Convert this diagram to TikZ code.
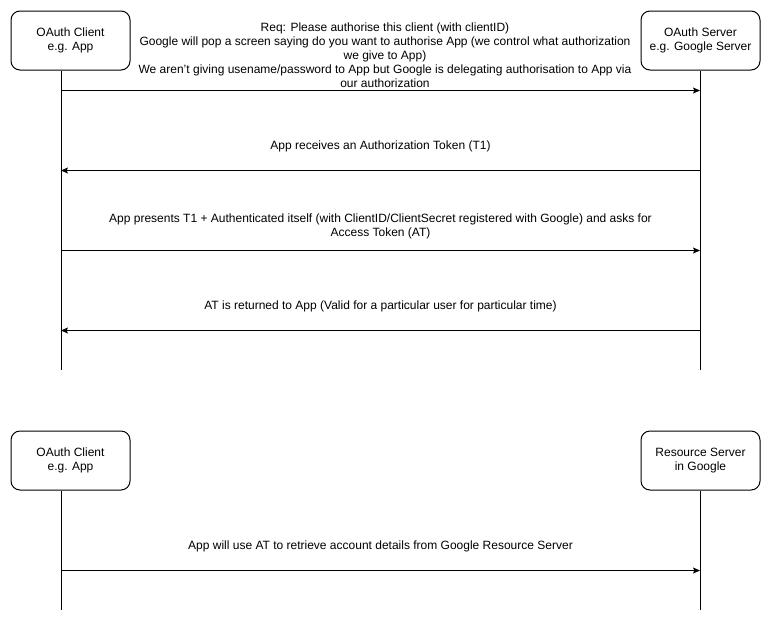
\documentclass[tikz,border=0pt]{standalone}
\usepackage{fontspec}
\setmainfont{Liberation Sans}
\usetikzlibrary{arrows.meta}
\begin{document}
\begin{tikzpicture}[x=1pt,y=-1pt,
  actor/.style={draw=black, line width=1pt, rounded corners=9pt, fill=white,
    minimum width=119pt, minimum height=59pt, align=center, inner sep=0pt,
    font=\fontsize{12}{14}\selectfont},
  life/.style={draw=black, line width=1pt},
  msg/.style={draw=black, line width=1pt, -{Stealth[length=7pt,width=6pt,inset=1.5pt]}},
  lbl/.style={align=center, inner sep=0pt, font=\fontsize{12}{14}\selectfont}]
\useasboundingbox (0,0) rectangle (771,622);
% top section
\node[actor] (c1) at (70.5,40.5) {OAuth Client\\e.g. App};
\node[actor] (s1) at (700.5,40.5) {OAuth Server\\e.g. Google Server};
\coordinate (c1e) at (61,370);
\coordinate (s1e) at (700,370);
\draw[life] (c1.south -| c1e) -- (c1e);
\draw[life] (s1.south -| s1e) -- (s1e);
\coordinate (a1l) at (61,90.5);  \coordinate (a1r) at (700,90.5);
\coordinate (a2l) at (61,170.5); \coordinate (a2r) at (700,170.5);
\coordinate (a3l) at (61,250.5); \coordinate (a3r) at (700,250.5);
\coordinate (a4l) at (61,330.5); \coordinate (a4r) at (700,330.5);
\draw[msg] (a1l) -- (a1r);
\draw[msg] (a2r) -- (a2l);
\draw[msg] (a3l) -- (a3r);
\draw[msg] (a4r) -- (a4l);
\node[lbl] (t1) at (385,55.5) {Req: Please authorise this client (with clientID)\\Google will pop a screen saying do you want to authorise App (we control what authorization\\we give to App)\\We aren't giving usename/password to App but Google is delegating authorisation to App via\\our authorization};
\node[lbl] (t2) at (380.5,146.5) {App receives an Authorization Token (T1)};
\node[lbl] (t3) at (380.5,226) {App presents T1 + Authenticated itself (with ClientID/ClientSecret registered with Google) and asks for\\Access Token (AT)};
\node[lbl] (t4) at (380.5,306) {AT is returned to App (Valid for a particular user for particular time)};
% bottom section
\node[actor] (c2) at (70.5,460.5) {OAuth Client\\e.g. App};
\node[actor] (r2) at (700.5,460.5) {Resource Server\\in Google};
\coordinate (c2e) at (61,610);
\coordinate (r2e) at (700,610);
\draw[life] (c2.south -| c2e) -- (c2e);
\draw[life] (r2.south -| r2e) -- (r2e);
\coordinate (a5l) at (61,570.5); \coordinate (a5r) at (700,570.5);
\draw[msg] (a5l) -- (a5r);
\node[lbl] (t5) at (380.5,546.5) {App will use AT to retrieve account details from Google Resource Server};
\end{tikzpicture}
\end{document}
